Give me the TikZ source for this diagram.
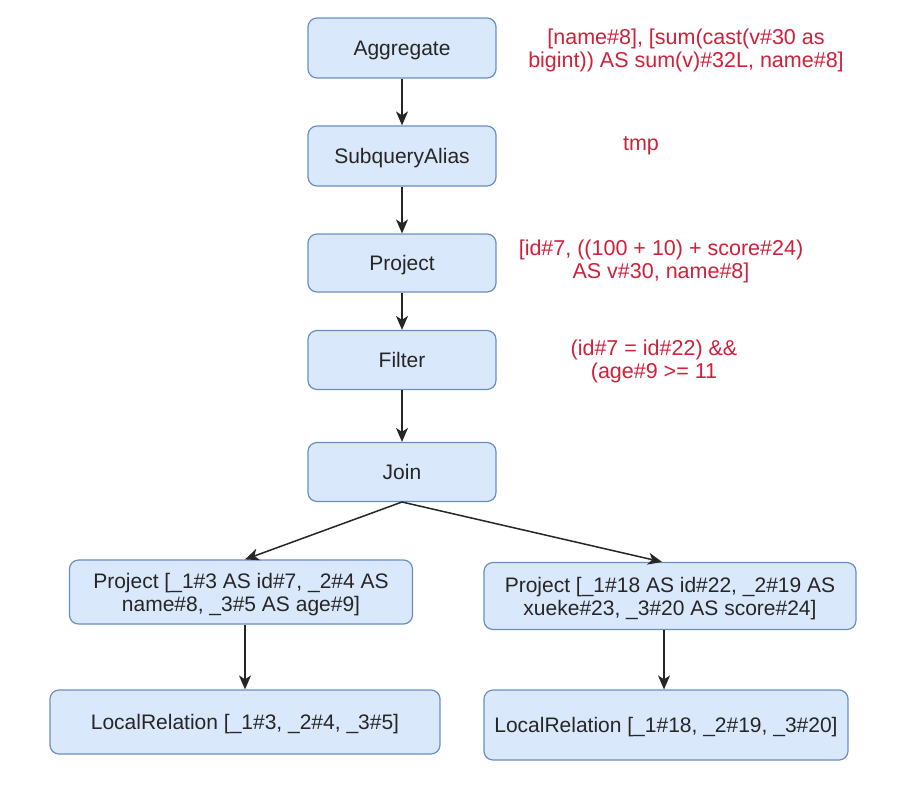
\documentclass[tikz,border=0pt]{standalone}
\usepackage{fontspec}
\setmainfont{Liberation Sans}
\usetikzlibrary{arrows.meta}
\definecolor{boxfill}{HTML}{DAE8FC}
\definecolor{boxline}{HTML}{6C8EBF}
\definecolor{lblred}{HTML}{D0203A}
\newcommand\mytop{\rule{0pt}{19.5pt}}
\newcommand\mybot{\rule[-4.5pt]{0pt}{0pt}}
\newcommand\myone{\rule[-4.5pt]{0pt}{24pt}}
\begin{document}
\begin{tikzpicture}[x=1pt,y=-1pt,
  opbox/.style={draw=boxline, fill=boxfill, line width=1.2pt, rounded corners=9pt,
    inner sep=0pt, align=center, font=\fontsize{21}{23}\selectfont, text=black!85},
  note/.style={align=center, font=\fontsize{21.5}{23}\selectfont, text=lblred},
  flow/.style={draw=black!85, line width=1.5pt, -{Stealth[length=14pt,width=12pt,inset=4pt]}}]
\useasboundingbox (0,0) rectangle (899,790);
\fill[white] (0,0) rectangle (899,790);
\node[opbox, minimum width=188pt, minimum height=60pt] (agg) at (402,48) {\myone Aggregate};
\node[opbox, minimum width=188pt, minimum height=60pt] (sub) at (402,156) {\myone SubqueryAlias};
\node[opbox, minimum width=188pt, minimum height=58pt] (proj) at (402,263) {\myone Project};
\node[opbox, minimum width=188pt, minimum height=59pt] (filt) at (402,360) {\myone Filter};
\node[opbox, minimum width=188pt, minimum height=59pt] (join) at (402,472) {\myone Join};
\node[opbox, minimum width=343pt, minimum height=64pt] (lp) at (241,592) {\mytop Project [\_1\#3 AS id\#7, \_2\#4 AS\\\mybot name\#8, \_3\#5 AS age\#9]};
\node[opbox, minimum width=372pt, minimum height=67pt] (rp) at (670,596) {\mytop Project [\_1\#18 AS id\#22, \_2\#19 AS\\\mybot xueke\#23, \_3\#20 AS score\#24]};
\node[opbox, minimum width=390pt, minimum height=64pt] (ll) at (245,722) {\myone LocalRelation [\_1\#3, \_2\#4, \_3\#5]};
\node[opbox, minimum width=364pt, minimum height=70pt] (rl) at (666,725) {\myone LocalRelation [\_1\#18, \_2\#19, \_3\#20]};
\node[note] (n1) at (686,50.5) {[name\#8], [sum(cast(v\#30 as\\bigint)) AS sum(v)\#32L, name\#8]};
\node[note] (n2) at (641,146) {tmp};
\node[note] (n3) at (661,261) {[id\#7, ((100 + 10) + score\#24)\\AS v\#30, name\#8]};
\node[note] (n4) at (654,361.5) {(id\#7 = id\#22) \&\&\\(age\#9 >= 11};
\draw[flow] (agg) -- (sub);
\draw[flow] (sub) -- (proj);
\draw[flow] (proj) -- (filt);
\draw[flow] (filt) -- (join);
\coordinate (jb) at (402,502);
\draw[flow] (jb) -- (lp.north -| 245,0);
\draw[flow] (jb) -- (rp.north -| 662,0);
\draw[flow] (lp.south -| 245,0) -- (ll.north -| 245,0);
\draw[flow] (rp.south -| 664,0) -- (rl.north -| 664,0);
\end{tikzpicture}
\end{document}
